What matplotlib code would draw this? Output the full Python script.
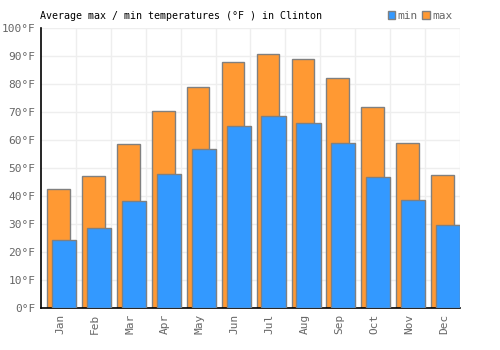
import matplotlib
matplotlib.use("Agg")
import matplotlib.pyplot as plt
import numpy as np
from matplotlib.patches import Patch

months = ["Jan", "Feb", "Mar", "Apr", "May", "Jun", "Jul", "Aug", "Sep", "Oct", "Nov", "Dec"]
max_temps = [42.5, 47.1, 58.6, 70.4, 78.9, 87.9, 90.7, 88.9, 82.1, 71.8, 58.9, 47.5]
min_temps = [24.3, 28.6, 38.2, 47.9, 56.8, 65.0, 68.6, 66.1, 58.9, 46.8, 38.6, 29.6]
yticks = list(range(0, 101, 10))

ORANGE = "#FF9933"
BLUE = "#3399FF"
EDGE = "#808080"
TXT = "#666666"
MONO = "DejaVu Sans Mono"

fig = plt.figure(figsize=(5, 3.5), dpi=100)
ax = fig.add_axes([0.082, 0.12, 0.838, 0.80])

x = np.arange(len(months))
ax.bar(x, max_temps, width=0.65, color=ORANGE, edgecolor=EDGE, linewidth=1, zorder=2)
ax.bar(x + 0.16, min_temps, width=0.69, color=BLUE, edgecolor=EDGE, linewidth=1, zorder=3)

ax.set_xlim(-0.5, len(months) - 0.5)
ax.set_ylim(0, 100)
ax.set_yticks(yticks)
ax.set_yticklabels([f"{v}°F" for v in yticks], fontsize=8, color=TXT, family=MONO)
ax.set_xticks(x + 0.05)
ax.set_xticklabels(months, rotation=90, fontsize=8, color=TXT, family=MONO)
ax.set_xticks(np.arange(len(months)) + 0.5, minor=True)
ax.tick_params(axis="both", which="both", length=0, pad=4)
ax.grid(axis="y", which="major", color="#EEEEEE", linewidth=1, zorder=0)
ax.grid(axis="x", which="minor", color="#EEEEEE", linewidth=1, zorder=0)
ax.set_axisbelow(True)
for s in ["top", "right"]:
    ax.spines[s].set_visible(False)
for s in ["left", "bottom"]:
    ax.spines[s].set_color("black")
    ax.spines[s].set_linewidth(1.2)

fig.text(0.08, 0.955, "Average max / min temperatures (°F ) in Clinton", fontsize=7.2,
         family=MONO, color="black", va="center", ha="left")

handles = [Patch(facecolor=BLUE, edgecolor=EDGE, label="min"),
           Patch(facecolor=ORANGE, edgecolor=EDGE, label="max")]
leg = fig.legend(handles=handles, loc="center right", bbox_to_anchor=(0.905, 0.955), ncol=2,
                 frameon=False, handlelength=0.7, handleheight=0.7, handletextpad=0.2,
                 columnspacing=0.4, prop={"family": MONO, "size": 8}, borderpad=0, borderaxespad=0)
for t in leg.get_texts():
    t.set_color(TXT)

fig.savefig("out.png", dpi=100)
